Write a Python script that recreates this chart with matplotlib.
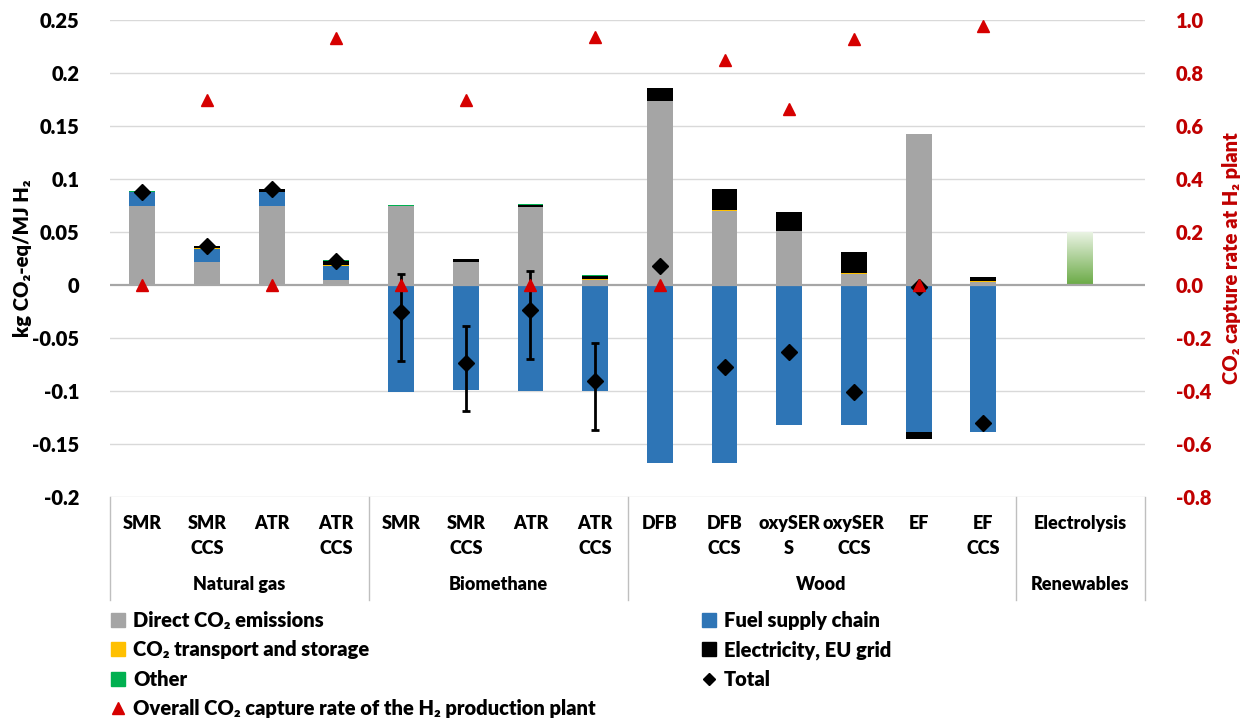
import matplotlib
matplotlib.use("Agg")
import matplotlib.pyplot as plt
import numpy as np
from matplotlib.lines import Line2D
from matplotlib.patches import Patch
from matplotlib.colors import LinearSegmentedColormap

FONT = ['Lato', 'DejaVu Sans']
plt.rcParams['font.family'] = FONT
WT = 'heavy'
plt.rcParams['font.weight'] = WT

# ---------------- data ----------------
categories = ["SMR", "SMR\nCCS", "ATR", "ATR\nCCS",
              "SMR", "SMR\nCCS", "ATR", "ATR\nCCS",
              "DFB", "DFB\nCCS", "oxySER\nS", "oxySER\nCCS", "EF", "EF\nCCS"]
groups = ["Natural gas", "Biomethane", "Wood", "Renewables"]
renew_label = "Electrolysis"

direct = [0.0745, 0.0217, 0.0748, 0.0047, 0.0745, 0.0217, 0.0739, 0.0050,
          0.1740, 0.0701, 0.0506, 0.0104, 0.1425, 0.0030]
fuel = [0.0132, 0.0125, 0.0132, 0.0133, -0.1013, -0.0987, -0.1003, -0.1003,
        -0.1680, -0.1680, -0.1320, -0.1320, -0.1390, -0.1387]
transport = [0.0, 0.0003, 0.0, 0.0004, 0.0, 0.0002, 0.0, 0.0005,
             0.0, 0.0005, 0.0, 0.0005, 0.0, 0.0008]
electricity = [0.0, 0.0022, 0.0023, 0.0040, 0.0, 0.0022, 0.0020, 0.0033,
               0.0120, 0.0200, 0.0183, 0.0206, -0.0065, 0.0041]
other = [0.0008, 0.0003, 0.0005, 0.0008, 0.0006, 0.0003, 0.0005, 0.0005,
         0.0, 0.0, 0.0, 0.0, 0.0, 0.0]
total = [0.0880, 0.0365, 0.0906, 0.0230, -0.0258, -0.0739, -0.0236, -0.0906,
         0.0182, -0.0770, -0.0632, -0.1006, -0.0020, -0.1305]
capture = [0.0, 0.70, 0.0, 0.933, 0.0, 0.70, 0.0, 0.935,
           0.0, 0.849, 0.664, 0.930, 0.0, 0.977]
electrolysis_value = 0.0497

bio_err_idx = [4, 5, 6, 7]
bio_err_upper = [0.0104, -0.0384, 0.0129, -0.0547]
bio_err_lower = [-0.0717, -0.1186, -0.0695, -0.1365]

# ---------------- styling ----------------
C_DIRECT = "#A5A5A5"
C_FUEL = "#2E75B6"
C_TRANS = "#FFC000"
C_ELEC = "#000000"
C_OTHER = "#00B050"
C_TRI = "#D60000"
C_RAX = "#C00000"
FS = 14.5
FS_CAT = 13

W, H = 1244, 724
fig = plt.figure(figsize=(W / 100, H / 100), dpi=100)
L, R, T, B = 110, 1145, 20, 497
ax = fig.add_axes([L / W, 1 - B / H, (R - L) / W, (B - T) / H])

n = len(categories)
x = np.arange(n, dtype=float)
x_el = n + 0.5
bw = 0.4

pos_bottom = np.zeros(n)
neg_bottom = np.zeros(n)
for vals, col in [(direct, C_DIRECT), (fuel, C_FUEL), (transport, C_TRANS),
                  (electricity, C_ELEC), (other, C_OTHER)]:
    v = np.array(vals, dtype=float)
    bottoms = np.where(v >= 0, pos_bottom, neg_bottom)
    ax.bar(x, v, bw, bottom=bottoms, color=col, zorder=3, linewidth=0)
    pos_bottom = pos_bottom + np.where(v >= 0, v, 0)
    neg_bottom = neg_bottom + np.where(v < 0, v, 0)

# electrolysis gradient bar
cmap = LinearSegmentedColormap.from_list("g", ["#6AAA45", "#EAF3E4"])
grad = np.linspace(0, 1, 256).reshape(-1, 1)
ax.imshow(grad, cmap=cmap, origin="lower", aspect="auto",
          extent=[x_el - bw / 2, x_el + bw / 2, 0, electrolysis_value], zorder=3)

# error bars (biomethane)
for i, up, lo in zip(bio_err_idx, bio_err_upper, bio_err_lower):
    t = total[i]
    ax.errorbar([x[i]], [t], yerr=[[t - lo], [up - t]], fmt="none",
                ecolor="black", elinewidth=2, capsize=3, capthick=2, zorder=4)

ax.plot(x, total, linestyle="none", marker="D", markersize=8,
        color="black", zorder=5)

ax.set_xlim(-0.5, n + 1.5)
ax.set_ylim(-0.2, 0.25)
yt = [0.25, 0.2, 0.15, 0.1, 0.05, 0, -0.05, -0.1, -0.15, -0.2]
ax.set_yticks(yt)
ax.set_yticklabels(["0.25", "0.2", "0.15", "0.1", "0.05", "0",
                    "-0.05", "-0.1", "-0.15", "-0.2"])
for yv in yt:
    if yv == 0:
        ax.axhline(yv, color="#A6A6A6", lw=1.6, zorder=3.5)
    else:
        ax.axhline(yv, color="#D9D9D9", lw=1, zorder=1)
for s in ax.spines.values():
    s.set_visible(False)
ax.tick_params(axis="y", length=0, pad=22, labelsize=FS)
ax.set_xticks([])

ax.set_ylabel("kg CO₂-eq/MJ H₂", fontsize=FS, fontweight=WT, labelpad=0)

# right axis
ax2 = ax.twinx()
ax2.set_ylim(-0.8, 1.0)
rt = [1.0, 0.8, 0.6, 0.4, 0.2, 0.0, -0.2, -0.4, -0.6, -0.8]
ax2.set_yticks(rt)
ax2.set_yticklabels([f"{v:.1f}" for v in rt], color=C_RAX)
ax2.tick_params(axis="y", length=0, pad=22, labelsize=FS)
for s in ax2.spines.values():
    s.set_visible(False)
ax2.plot(x, capture, linestyle="none", marker="^", markersize=9,
         color=C_TRI, zorder=6)
ax2.set_ylabel("CO₂ capture rate at H₂ plant", color=C_RAX, fontsize=FS,
               fontweight=WT, labelpad=8)

# multi-level category axis
tr = ax.get_xaxis_transform()
for xi, lab in zip(x, categories):
    ax.text(xi, -0.038, lab, transform=tr, ha="center", va="top",
            fontsize=FS_CAT, fontweight=WT, linespacing=1.55)
ax.text(x_el, -0.038, renew_label, transform=tr, ha="center", va="top",
        fontsize=FS_CAT, fontweight=WT)
bounds = [-0.5, 3.5, 7.5, 13.5, n + 1.5]
for gi, g in enumerate(groups):
    c = (bounds[gi] + bounds[gi + 1]) / 2
    ax.text(c, -0.184, g, transform=tr, ha="center", va="center",
            fontsize=FS_CAT, fontweight=WT)
for b in bounds:
    ax.add_line(Line2D([b, b], [0, -0.216], transform=tr, color="#BFBFBF",
                       lw=1, clip_on=False))

# legends
h1 = [Patch(color=C_DIRECT), Patch(color=C_TRANS), Patch(color=C_OTHER),
      Line2D([], [], marker="^", color=C_TRI, linestyle="none", markersize=8)]
l1 = ["Direct CO₂ emissions", "CO₂ transport and storage", "Other",
      "Overall CO₂ capture rate of the H₂ production plant"]
h2 = [Patch(color=C_FUEL), Patch(color=C_ELEC),
      Line2D([], [], marker="D", color="black", linestyle="none", markersize=6)]
l2 = ["Fuel supply chain", "Electricity, EU grid", "Total"]
kw = dict(frameon=False, fontsize=FS, handlelength=0.7, handleheight=0.7,
          handletextpad=0.4, labelspacing=0.52, borderaxespad=0, borderpad=0)
leg1 = fig.legend(h1, l1, loc="upper left",
                  bbox_to_anchor=(111 / W, 1 - 611 / H), **kw)
leg2 = fig.legend(h2, l2, loc="upper left",
                  bbox_to_anchor=(702 / W, 1 - 611 / H), **kw)
for lg in (leg1, leg2):
    for t in lg.get_texts():
        t.set_fontweight(WT)

fig.savefig("out.png", dpi=100)
